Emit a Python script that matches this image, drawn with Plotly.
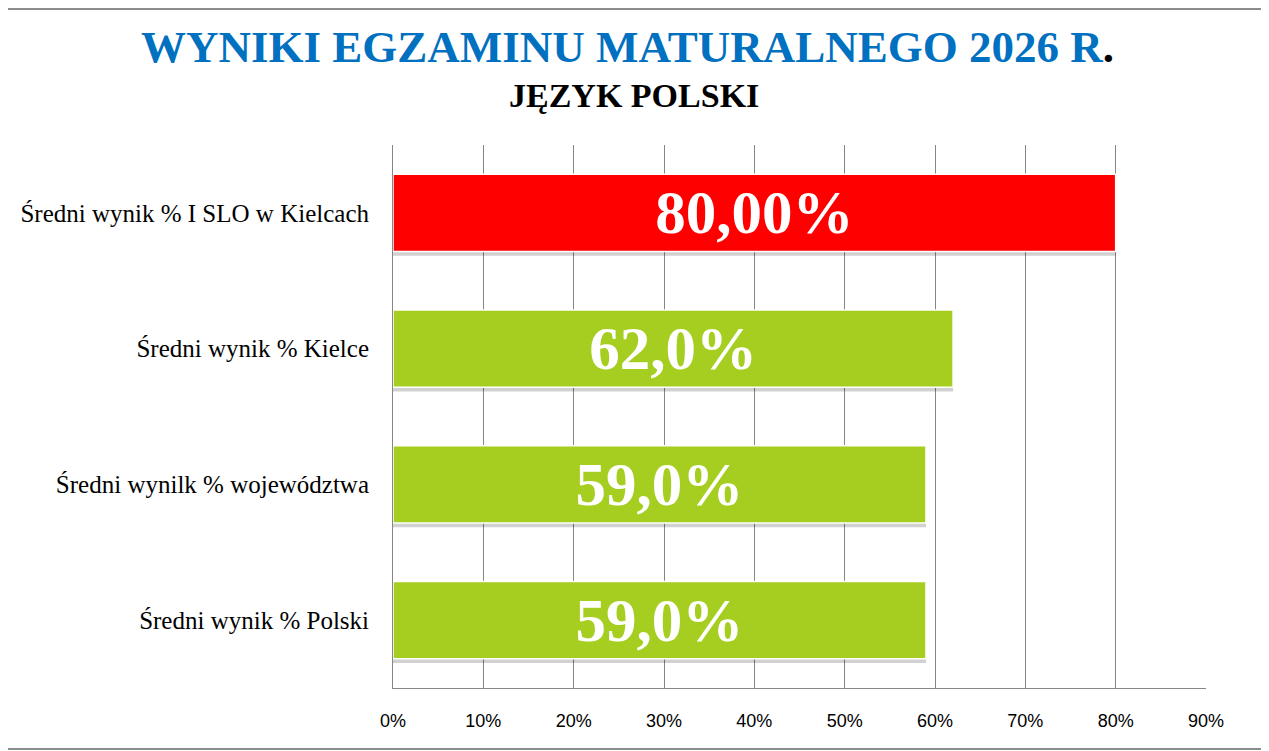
import plotly.graph_objects as go

# data
categories = [
    "Średni wynik % I SLO w Kielcach",
    "Średni wynik % Kielce",
    "Średni wynilk % województwa",
    "Średni wynik % Polski",
]
values = [80.0, 62.0, 59.0, 59.0]
value_labels = ["80,00%", "62,0%", "59,0%", "59,0%"]
bar_colors = ["#FF0000", "#A6CE21", "#A6CE21", "#A6CE21"]
x_ticks = [0, 10, 20, 30, 40, 50, 60, 70, 80, 90]
x_tick_labels = ["0%", "10%", "20%", "30%", "40%", "50%", "60%", "70%", "80%", "90%"]

serif = "Liberation Serif, Times New Roman, serif"
bw = 0.57

# page body has an 8px margin, so the figure is a bit smaller than the window
W, H = 1261, 743
L, R, T, B = 382, 63, 137, 63
pw = W - L - R
ph = H - T - B


def px(x):
    # figure pixel -> paper x
    return (x - L) / pw


def py(y):
    # figure pixel -> paper y
    return (H - B - y) / ph


fig = go.Figure()

# soft shadow under each bar
fig.add_trace(go.Bar(
    y=categories, x=values, orientation="h",
    width=bw, offset=-bw / 2 + 0.03,
    marker=dict(color="rgba(0,0,0,0.18)", line=dict(width=0)),
    hoverinfo="skip", showlegend=False,
))

fig.add_trace(go.Bar(
    y=categories, x=values, orientation="h",
    width=bw, offset=-bw / 2,
    marker=dict(color=bar_colors, line=dict(color="white", width=1.5)),
    text=value_labels, textposition="inside", insidetextanchor="middle",
    textangle=0,
    textfont=dict(family=serif, size=61, color="white", weight="bold"),
    showlegend=False,
))

frame = dict(type="line", xref="paper", yref="paper",
             line=dict(color="#8C8C8C", width=2))

fig.update_layout(
    width=W, height=H,
    margin=dict(l=L, r=R, t=T, b=B),
    paper_bgcolor="white", plot_bgcolor="white",
    barmode="overlay",
    xaxis=dict(
        range=[0, 90], tickmode="array", tickvals=x_ticks, ticktext=x_tick_labels,
        showgrid=True, gridcolor="#868686", gridwidth=1,
        showline=True, linecolor="#868686", linewidth=1,
        zeroline=False, ticks="",
        tickfont=dict(family="Liberation Sans, Arial, sans-serif", size=18, color="black"),
        ticklabelstandoff=16,
    ),
    yaxis=dict(
        autorange="reversed",
        showline=True, linecolor="#868686", linewidth=1,
        showgrid=False, ticks="",
        tickfont=dict(family=serif, size=25, color="black"),
        ticklabelstandoff=18,
    ),
    annotations=[
        dict(text="WYNIKI EGZAMINU MATURALNEGO 2026 R<span style='color:black'>.</span>",
             xref="paper", yref="paper", x=px(617), y=py(39),
             xanchor="center", yanchor="middle", showarrow=False,
             font=dict(family=serif, size=45, color="#0070C0", weight="bold")),
        dict(text="JĘZYK POLSKI",
             xref="paper", yref="paper", x=px(624), y=py(87),
             xanchor="center", yanchor="middle", showarrow=False,
             font=dict(family=serif, size=34, color="black", weight="bold")),
    ],
    shapes=[
        dict(frame, x0=px(-10), x1=px(1259), y0=py(1), y1=py(1)),
        dict(frame, x0=px(1259), x1=px(1259), y0=py(1), y1=py(741)),
        dict(frame, x0=px(-10), x1=px(1259), y0=py(741), y1=py(741)),
    ],
)

fig.write_html("out.html")
